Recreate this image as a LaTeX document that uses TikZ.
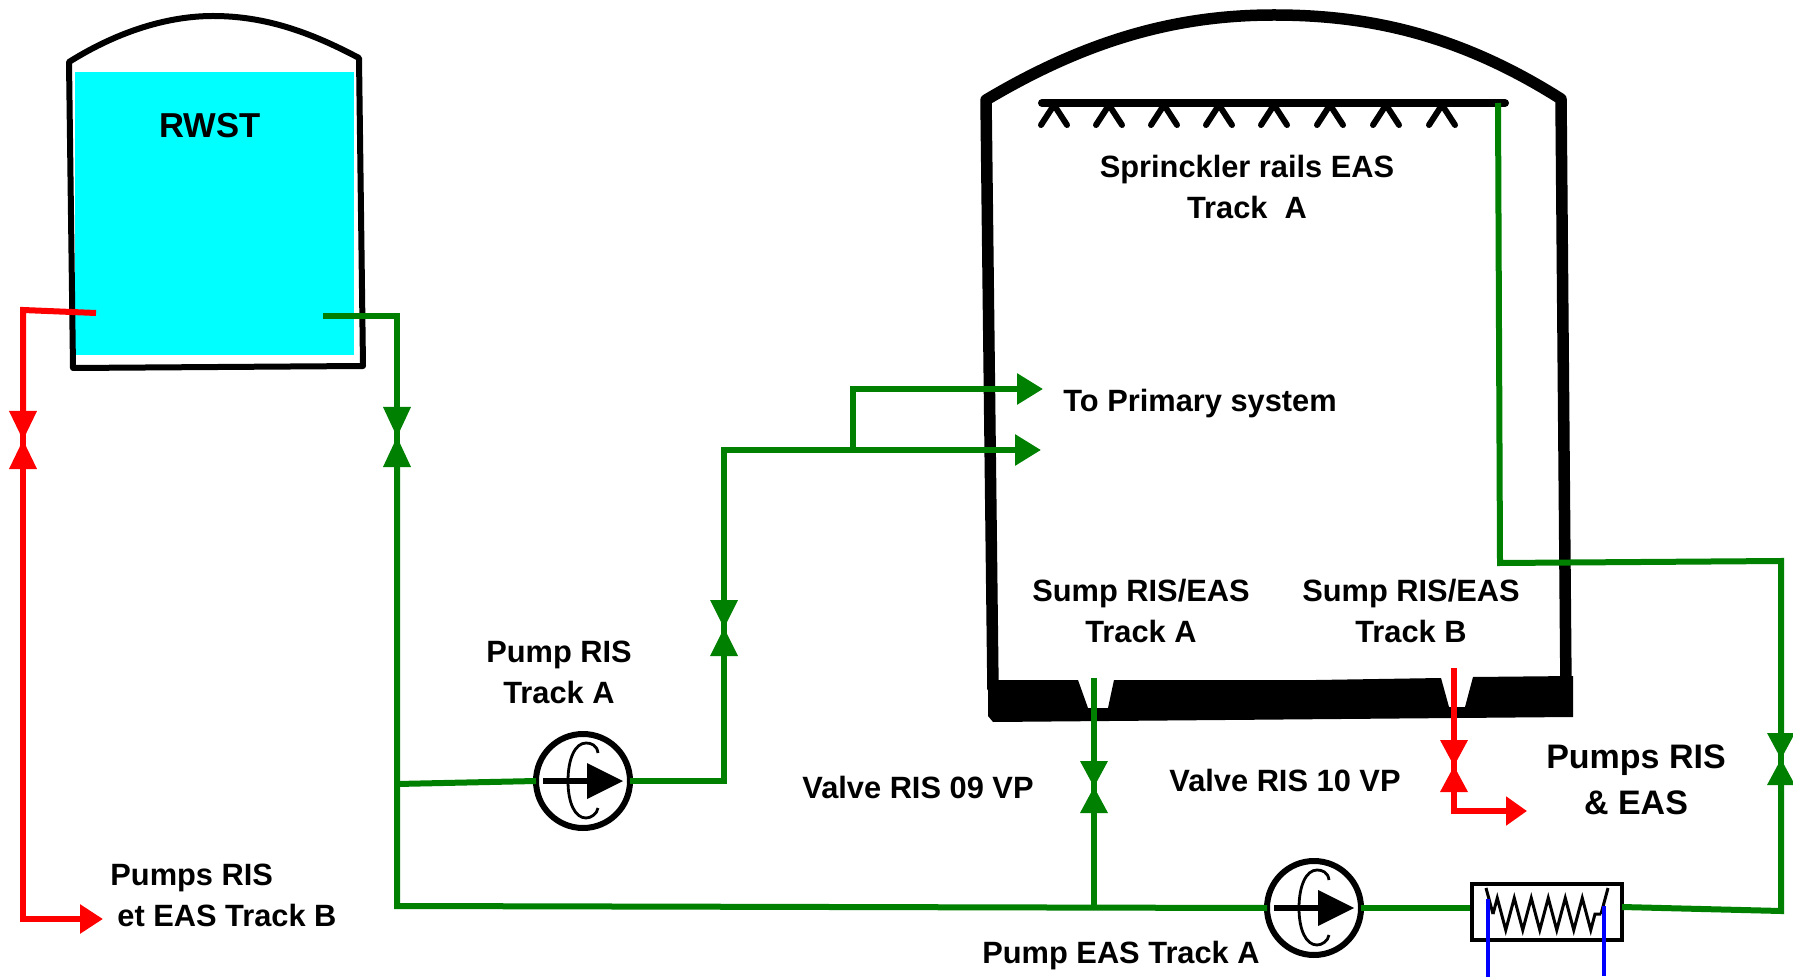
\documentclass[tikz,border=0pt]{standalone}
\usepackage{fontspec}
\setmainfont{Liberation Sans}
\usetikzlibrary{arrows.meta,decorations.pathmorphing}
\definecolor{pipegreen}{RGB}{0,128,0}
\definecolor{pipered}{RGB}{255,0,0}
\definecolor{waterfill}{RGB}{0,255,255}
\definecolor{coolblue}{RGB}{0,0,255}
\tikzset{
  pid/pipe/.style={line width=3pt},
  pid/wall/.style={line width=3pt, line join=round},
  pid/tip/.style={-{Triangle[length=13pt, width=15pt]}},
  pid/label/.style={
    font=\fontsize{15.4}{20.5}\selectfont\bfseries,
    align=center,
    inner sep=0pt
  },
  pid/valve/.style={
    minimum width=14pt,
    minimum height=26pt,
    inner sep=0pt,
    outer sep=0pt,
    path picture={
      \fill[#1] (path picture bounding box.north west) -- (path picture bounding box.north east)
        -- (path picture bounding box.south west) -- (path picture bounding box.south east) -- cycle;
      \draw[#1, line width=3pt] (path picture bounding box.north) -- (path picture bounding box.south);
    }
  },
  pid/pump/.style={
    circle,
    draw,
    fill=white,
    line width=3pt,
    minimum size=47pt,
    inner sep=0pt,
    outer sep=0pt,
    path picture={
      \begin{scope}[shift={(path picture bounding box.center)}]
        \draw[black, line width=3pt] (-40,0) -- (6,0);
        \fill[black] (4,-18) -- (40,0) -- (4,18) -- cycle;
        \draw[black, line width=1.4pt] (15,-28) .. controls (14,-36) and (8,-38) .. (3,-38)
          .. controls (-8,-38) and (-15,-22) .. (-15,0)
          .. controls (-15,22) and (-8,37) .. (3,37)
          .. controls (8,37) and (14,33) .. (15,27);
      \end{scope}
    }
  }
}

\begin{document}
\begin{tikzpicture}[x=0.5pt, y=-0.5pt]
\useasboundingbox (0,0) rectangle (1793,978);

% --- storage tank
\fill[waterfill] (75,72) rectangle (354,355);
\draw[pid/wall] (69,62) .. controls (120,30) and (170,16) .. (213,16)
  .. controls (265,16) and (310,32) .. (359,58) -- (363,366) -- (73,368) -- cycle;
\node[pid/label, font=\fontsize{17.3}{20}\selectfont\bfseries] (rwst) at (210,126) {RWST};

% --- containment
\draw[line width=5.75pt, line join=round] (993,690) -- (986,100)
  .. controls (1090,38) and (1180,15) .. (1274,15)
  .. controls (1370,15) and (1460,35) .. (1561,99) -- (1566,690);
\fill (988,680) -- (1078,680) -- (1088,708) -- (1108,708) -- (1114,680) -- (1316,680)
  -- (1441,678) -- (1449,707) -- (1465,707) -- (1473,677) -- (1573,676)
  -- (1573,717) -- (993,722) -- (988,716) -- cycle;

% --- sprinkler rail
\coordinate (railend) at (1498,103);
\draw[line width=4pt, line cap=round] (1042,103) -- (1505,103);
\foreach \x in {1054,1109,1164,1219,1274,1330,1386,1442} {
  \draw[line width=3pt, line cap=round, line join=round] (\x-13,125) -- (\x,105) -- (\x+13,125);
}

% --- valves and pumps
\node[pid/valve=pipered, minimum height=29pt] (vred) at (23,440) {};
\node[pid/valve=pipegreen, minimum height=30pt] (vtank) at (397,437) {};
\node[pid/valve=pipegreen, minimum height=28pt] (vinj) at (724,628) {};
\node[pid/valve=pipegreen] (v09) at (1094,787) {};
\node[pid/valve=pipered] (v10) at (1454,766) {};
\node[pid/valve=pipegreen] (veas) at (1781,759) {};
\node[pid/pump] (pumpris) at (583,781) {};
\node[pid/pump] (pumpeas) at (1314,908) {};

% --- heat exchanger
\node[draw, line width=2pt, minimum width=75pt, minimum height=28pt, inner sep=0pt] (hx) at (1546.5,912) {};
\draw[line width=1.5pt, decorate, decoration={zigzag, segment length=8.5pt, amplitude=8pt}]
  (1493,914) -- (1601,914);
\draw[line width=1.5pt] (1486,888) -- (1493,914) (1608,888) -- (1601,914);

% --- free ends
\coordinate (redout) at (96,313);
\coordinate (redbend) at (23,310);
\coordinate (redtip) at (103,919);
\coordinate (greenout) at (323,316);
\coordinate (mainbend) at (397,906);
\coordinate (risin) at (397,784);
\coordinate (injbend) at (725,450);
\coordinate (teebranch) at (853,450);
\coordinate (primtop) at (1043,389);
\coordinate (primlow) at (1041,450);
\coordinate (sumpa) at (1094,678);
\coordinate (sumpb) at (1454,668);
\coordinate (redtwotip) at (1527,811);
\coordinate (railbend) at (1500,563);
\coordinate (rightbend) at (1781,561);
\coordinate (hxout) at (1622,907);
\coordinate (hxbend) at (1781,911);

% --- pipes
\draw[pid/pipe, pipered] (redout) -- (redbend) -- (vred.north);
\draw[pid/pipe, pipered, -{Triangle[length=11.5pt, width=14pt]}] (vred.south) |- (redtip);
\draw[pid/pipe, pipegreen] (greenout) -| (vtank.north);
\draw[pid/pipe, pipegreen] (vtank.south) |- (mainbend) -- (pumpeas.west);
\draw[pid/pipe, pipegreen] (risin) -- (pumpris.west);
\draw[pid/pipe, pipegreen] (pumpris.east) -| (vinj.south);
\draw[pid/pipe, pipegreen, pid/tip] (vinj.north) |- (primlow);
\draw[pid/pipe, pipegreen, pid/tip] (teebranch) |- (primtop);
\draw[pid/pipe, pipegreen] (sumpa) -- (v09.north);
\draw[pid/pipe, pipegreen] (v09.south) -- (v09.south |- mainbend);
\draw[pid/pipe, pipered] (sumpb) -- (v10.north);
\draw[pid/pipe, pipered, -{Triangle[length=10.5pt, width=14pt]}] (v10.south) |- (redtwotip);
\draw[pid/pipe, pipegreen] (railend) -- (railbend) -- (rightbend) -- (veas.north);
\draw[pid/pipe, pipegreen] (veas.south) -- (hxbend) -- (hxout);
\draw[pid/pipe, pipegreen] (pumpeas.east) -- (pumpeas.east -| hx.west);

% --- cooling water
\draw[line width=2pt, coolblue] (1488,899) -- (1488,977);
\draw[line width=2pt, coolblue] (1604,906) -- (1604,976);

% --- labels
\node[pid/label] (sprlabel) at (1247,187) {Sprinckler rails EAS\\Track~~A};
\node[pid/label, anchor=west] (primlabel) at (1063,404) {To Primary system};
\node[pid/label] (sumpalabel) at (1141,611) {Sump RIS/EAS\\Track A};
\node[pid/label] (sumpblabel) at (1411,611) {Sump RIS/EAS\\Track B};
\node[pid/label] (pumplabel) at (559,672) {Pump RIS\\Track A};
\node[pid/label] (v09label) at (918,787) {Valve RIS 09 VP};
\node[pid/label] (v10label) at (1285,780) {Valve RIS 10 VP};
\node[pid/label, font=\fontsize{17}{23}\selectfont\bfseries] (easlabel) at (1636,780) {Pumps RIS\\\& EAS};
\node[pid/label, align=left, anchor=west] (redlabel) at (110,895) {Pumps RIS\\\hspace{3.5pt}et EAS Track B};
\node[pid/label] (eastrack) at (1121,956) {Pump EAS Track A};

\end{tikzpicture}
\end{document}
